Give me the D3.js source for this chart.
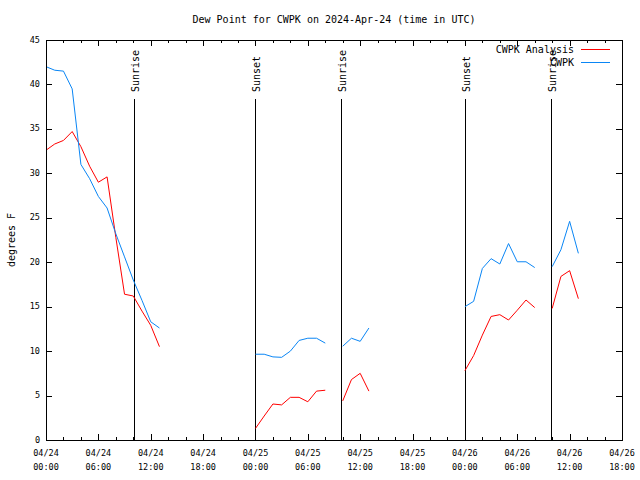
<!DOCTYPE html>
<html>
<head>
<meta charset="utf-8">
<script src="https://cdn.jsdelivr.net/npm/d3@7"></script>
<style>
body { margin: 0; background: #fff; }
svg { display: block; }
text { font-family: "DejaVu Sans Mono", monospace; fill: #000; }
</style>
</head>
<body>
<svg id="chart" width="640" height="480"></svg>
<script>
// Hours after 2024-04-24 00:00 UTC for each observation, segments separated by gaps
const seg1Hours = [0,1,2,3,4,5,6,7,8,9,10,11,12,13];
const seg2Hours = [24,25,26,27,28,29,30,31,32];
const seg3Hours = [34,35,36,37];
const seg4Hours = [48,49,50,51,52,53,54,55,56];
const seg5Hours = [58,59,60,61];

// CWPK observed dew point (deg F)
const cwpk1 = [42.0,41.6,41.5,39.5,31.0,29.4,27.4,26.1,23.2,20.6,18.0,15.7,13.3,12.6];
const cwpk2 = [9.65,9.65,9.35,9.3,10.0,11.2,11.45,11.45,10.9];
const cwpk3 = [10.55,11.45,11.1,12.6];
const cwpk4 = [15.0,15.6,19.3,20.4,19.8,22.1,20.05,20.05,19.4];
const cwpk5 = [19.5,21.4,24.6,21.0];

// CWPK Analysis dew point (deg F)
const anal1 = [32.6,33.3,33.7,34.7,33.0,30.8,29.0,29.6,22.8,16.4,16.2,14.5,12.9,10.5];
const anal2 = [1.3,2.7,4.05,3.95,4.8,4.8,4.3,5.5,5.6];
const anal3 = [4.4,6.8,7.5,5.5];
const anal4 = [7.8,9.5,11.8,13.9,14.1,13.5,14.6,15.75,14.9];
const anal5 = [14.8,18.4,19.05,15.9];

// Sunrise / sunset times (hours after start)
const sunHours = [10.05, 23.99, 33.85, 47.96, 57.82];
const sunLabels = ["Sunrise","Sunset","Sunrise","Sunset","Sunrise"];

const yTicks = [0,5,10,15,20,25,30,35,40,45];
const titleText = "Dew Point for CWPK on 2024-Apr-24 (time in UTC)";
const yLabel = "degrees F";
const seriesNames = ["CWPK Analysis","CWPK"];
const seriesColors = ["#ff0000","#0a86f5"];

const start = Date.UTC(2024,3,24,0,0);
const toDate = h => new Date(start + h*3600000);

const svg = d3.select("#chart");
const L = 46, R = 622, T = 40, B = 440;

const x = d3.scaleUtc().domain([toDate(0), toDate(66)]).range([L, R]);
const y = d3.scaleLinear().domain([0,45]).range([B, T]);

function segs(hoursList, valsList) {
  return hoursList.map((hs, i) => hs.map((h, j) => ({t: toDate(h), v: valsList[i][j]})));
}
const analSegs = segs([seg1Hours,seg2Hours,seg3Hours,seg4Hours,seg5Hours],[anal1,anal2,anal3,anal4,anal5]);
const cwpkSegs = segs([seg1Hours,seg2Hours,seg3Hours,seg4Hours,seg5Hours],[cwpk1,cwpk2,cwpk3,cwpk4,cwpk5]);

// Title (centred over plot area)
svg.append("text").attr("x", (L+R)/2).attr("y", 20).attr("text-anchor","middle")
  .attr("dominant-baseline","middle").attr("font-size", 10).text(titleText);

// Y label
svg.append("text").attr("transform","translate(12,240) rotate(-90)")
  .attr("text-anchor","middle").attr("dominant-baseline","middle")
  .attr("font-size", 10).text(yLabel);

const g = svg.append("g");

// ticks
const majorTimes = d3.utcHour.every(6).range(toDate(0), toDate(66.01));
const minorTimes = d3.utcHour.every(2).range(toDate(0), toDate(66.01));
const tg = g.append("g").attr("stroke","#000").attr("shape-rendering","crispEdges");
minorTimes.forEach(t => {
  const major = t.getUTCHours() % 6 === 0;
  const len = major ? 6 : 3;
  const xx = Math.round(x(t)) + 0.5;
  tg.append("line").attr("x1",xx).attr("x2",xx).attr("y1",B).attr("y2",B-len);
  tg.append("line").attr("x1",xx).attr("x2",xx).attr("y1",T).attr("y2",T+len);
});
yTicks.forEach(v => {
  const yy = Math.round(y(v)) + 0.5;
  tg.append("line").attr("x1",L).attr("x2",L+6).attr("y1",yy).attr("y2",yy);
  tg.append("line").attr("x1",R).attr("x2",R-6).attr("y1",yy).attr("y2",yy);
});

// y tick labels
yTicks.forEach(v => {
  g.append("text").attr("x", L-6).attr("y", y(v)).attr("text-anchor","end")
    .attr("dominant-baseline","middle").attr("font-size", 8.5).text(v);
});
// x tick labels
const fmtD = d3.utcFormat("%m/%d"), fmtT = d3.utcFormat("%H:%M");
majorTimes.forEach(t => {
  const tx = g.append("text").attr("x", x(t)).attr("text-anchor","middle").attr("font-size", 8.5);
  tx.append("tspan").attr("x", x(t)).attr("y", 456).text(fmtD(t));
  tx.append("tspan").attr("x", x(t)).attr("y", 470).text(fmtT(t));
});

// Sun lines
sunHours.forEach((h, i) => {
  const xx = Math.round(x(toDate(h))) + 0.5;
  g.append("line").attr("x1",xx).attr("x2",xx).attr("y1",B).attr("y2",99)
    .attr("stroke","#000").attr("shape-rendering","crispEdges");
  g.append("text").attr("transform",`translate(${xx+1},92) rotate(-90)`)
    .attr("text-anchor","start").attr("dominant-baseline","middle")
    .attr("font-size", 10).text(sunLabels[i]);
});

// Series lines
const line = d3.line().x(d => x(d.t)).y(d => y(d.v));
analSegs.forEach(s => g.append("path").attr("d", line(s)).attr("fill","none")
  .attr("stroke", seriesColors[0]).attr("stroke-width",1));
cwpkSegs.forEach(s => g.append("path").attr("d", line(s)).attr("fill","none")
  .attr("stroke", seriesColors[1]).attr("stroke-width",1));

// Frame
g.append("rect").attr("x",L+0.5).attr("y",T+0.5).attr("width",R-L).attr("height",B-T)
  .attr("fill","none").attr("stroke","#000").attr("shape-rendering","crispEdges");

// Legend
seriesNames.forEach((n, i) => {
  const ly = 50 + i*13;
  g.append("text").attr("x", 574).attr("y", ly).attr("text-anchor","end")
    .attr("dominant-baseline","middle").attr("font-size", 10).text(n);
  g.append("line").attr("x1",581).attr("x2",610).attr("y1",ly-0.5).attr("y2",ly-0.5)
    .attr("stroke", seriesColors[i]).attr("shape-rendering","crispEdges");
});
</script>
</body>
</html>
